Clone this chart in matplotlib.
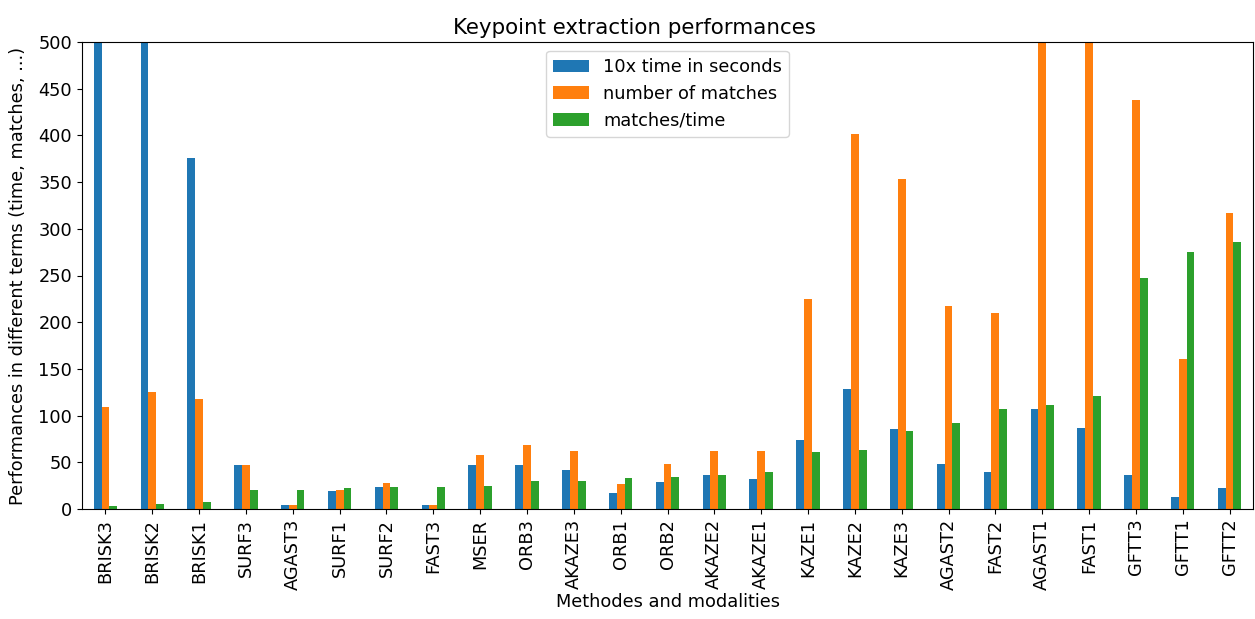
import numpy as np
import matplotlib
matplotlib.use("Agg")
import matplotlib.pyplot as plt
from matplotlib.ticker import MultipleLocator

methods = ["BRISK3", "BRISK2", "BRISK1", "SURF3", "AGAST3", "SURF1", "SURF2", "FAST3",
           "MSER", "ORB3", "AKAZE3", "ORB1", "ORB2", "AKAZE2", "AKAZE1", "KAZE1", "KAZE2",
           "KAZE3", "AGAST2", "FAST2", "AGAST1", "FAST1", "GFTT3", "GFTT1", "GFTT2"]
time10 = [1200, 900, 376, 47, 4.2, 19, 23.5, 4.2, 47, 47, 41.3, 16.7, 28.9, 36, 31.7,
          74.4, 128, 85.5, 48, 40, 107, 87, 36, 12.4, 22]
matches = [109, 125, 118, 47, 4.2, 20.6, 27.8, 4.2, 57.7, 68.7, 62, 26.3, 48.4, 62, 62,
           224.5, 401, 353, 217.5, 210, 800, 700, 438, 161, 316.5]
ratio = [2.8, 5.7, 7, 20.6, 20.6, 22, 23.5, 23.5, 25, 30.3, 30.3, 33, 34.5, 36, 40,
         60.5, 63, 83.7, 92, 107, 111, 121, 247.6, 274.8, 285.8]
series_names = ["10x time in seconds", "number of matches", "matches/time"]
colors = ["#1f77b4", "#ff7f0e", "#2ca02c"]

plt.rcParams["font.size"] = 12.8
fig = plt.figure(figsize=(12.55, 6.19), dpi=100)
ax = fig.add_axes([82/1255, 1 - 509/619, (1253-82)/1255, (509-42)/619])

x = np.arange(len(methods))
w = 0.5 / 3
for i, (vals, name, c) in enumerate(zip([time10, matches, ratio], series_names, colors)):
    ax.bar(x + (i - 1) * w, vals, width=w, color=c, label=name)

ax.set_xlim(-0.5, len(methods) - 0.5)
ax.set_ylim(0, 500)
ax.yaxis.set_major_locator(MultipleLocator(50))
ax.set_xticks(x)
ax.set_xticklabels(methods, rotation=90)
ax.set_title("Keypoint extraction performances", x=(634 - 82) / (1253 - 82))
ax.set_xlabel("Methodes and modalities", labelpad=2)
ax.set_ylabel("Performances in different terms (time, matches, ...)", labelpad=8)
ax.legend(loc="upper center")

fig.savefig("out.png", dpi=100)
